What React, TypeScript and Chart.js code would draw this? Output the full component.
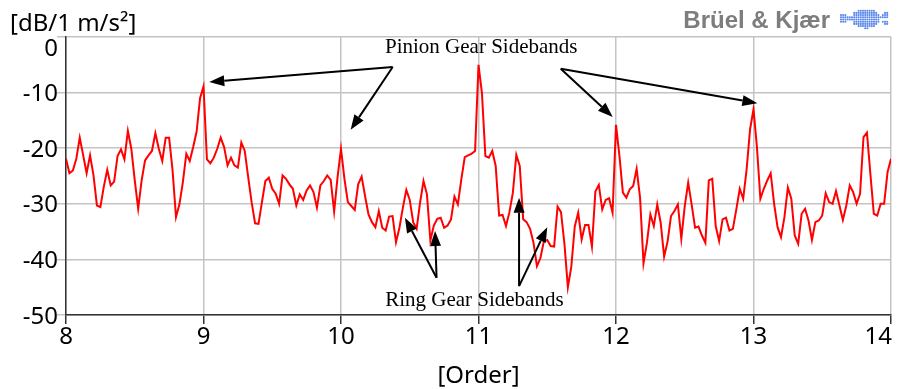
import React, { useEffect, useRef } from "react";
import { Chart, registerables } from "chart.js";

Chart.register(...registerables);

// Spectrum sampling: one value every 1/40 order, starting at order 8
const ORDER_START = 8;
const ORDER_STEP = 0.025;

const X_TICKS = [8, 9, 10, 11, 12, 13, 14];
const Y_TICKS = [0, -10, -20, -30, -40, -50];

const Y_TITLE = "[dB/1 m/s²]";
const X_TITLE = "[Order]";
const PINION_LABEL = "Pinion Gear Sidebands";
const RING_LABEL = "Ring Gear Sidebands";
const BRAND = "Brüel & Kjær";

// order 8.000 .. 9.000
const LEVELS_8_9 = [
  -21.9, -24.5, -24.0, -21.9, -18.1, -21.3, -24.5, -21.3, -24.9, -30.3,
  -30.6, -26.9, -23.9, -26.7, -26.0, -21.4, -20.2, -22.0, -16.9, -20.1,
  -25.8, -30.9, -25.8, -22.2, -21.3, -20.5, -17.3, -20.1, -22.3, -18.1,
  -18.1, -24.0, -32.4, -30.1, -26.1, -21.0, -22.3, -19.8, -17.0, -11.0,
  -8.9,
];
// order 9.025 .. 10.000
const LEVELS_9_10 = [
  -22.0, -22.7, -21.7, -20.1, -18.1, -19.8, -23.1, -21.7, -23.1, -23.5,
  -19.0, -20.5, -25.2, -29.7, -33.5, -33.6, -29.7, -25.9, -25.3, -27.3,
  -28.2, -30.0, -24.9, -25.5, -26.5, -27.3, -30.3, -28.3, -29.3, -27.6,
  -26.7, -27.9, -30.7, -26.7, -25.9, -24.9, -25.7, -31.4, -25.2, -20.1,
];
// order 10.025 .. 11.000
const LEVELS_10_11 = [
  -25.5, -29.7, -30.4, -31.1, -26.5, -25.1, -28.6, -31.9, -33.3, -34.2,
  -31.3, -34.3, -34.8, -32.3, -32.2, -36.9, -34.3, -30.7, -27.5, -29.3,
  -33.3, -34.5, -29.8, -25.9, -28.3, -36.6, -33.9, -32.7, -32.5, -34.3,
  -33.9, -32.8, -28.7, -30.1, -25.6, -21.6, -21.3, -21.0, -20.5, -5.0,
];
// order 11.025 .. 12.000
const LEVELS_11_12 = [
  -10.1, -21.4, -21.7, -20.5, -23.2, -32.1, -32.0, -34.0, -31.5, -28.0,
  -21.2, -23.2, -32.8, -33.3, -34.5, -37.0, -41.2, -39.8, -36.8, -36.5,
  -37.6, -37.7, -30.5, -31.5, -37.2, -45.0, -41.3, -34.1, -31.6, -36.4,
  -33.8, -33.8, -37.7, -27.8, -26.6, -31.0, -29.3, -29.0, -31.6, -15.8,
];
// order 12.025 .. 13.000
const LEVELS_12_13 = [
  -21.4, -28.0, -28.9, -27.4, -26.8, -23.7, -28.9, -40.7, -37.0, -31.9,
  -34.0, -30.1, -33.4, -39.5, -36.8, -32.2, -31.3, -30.1, -36.3, -30.4,
  -26.2, -30.1, -34.3, -34.1, -35.7, -37.0, -25.8, -25.5, -34.0, -36.7,
  -32.8, -32.5, -34.8, -34.5, -31.0, -27.3, -29.1, -23.8, -16.6, -13.0,
];
// order 13.025 .. 14.000
const LEVELS_13_14 = [
  -19.8, -29.1, -27.3, -25.8, -24.5, -30.0, -34.2, -36.0, -32.4, -27.1,
  -29.1, -35.7, -37.2, -31.8, -30.9, -33.0, -36.5, -33.3, -33.0, -32.1,
  -28.1, -29.7, -30.0, -27.7, -30.3, -32.9, -30.3, -26.7, -27.9, -30.0,
  -28.2, -18.0, -17.2, -24.6, -31.8, -32.1, -30.0, -30.0, -24.3, -21.9,
];

// Annotation anchors in data units [order, dB]
const PINION_TEXT_AT = [11.02, -2.8];
const PINION_LEFT_BASE = [10.376, -5.4];
const PINION_LEFT_TIPS = [
  [9.042, -8.1],
  [10.07, -16.7],
];
const PINION_RIGHT_BASE = [11.598, -5.7];
const PINION_RIGHT_TIPS = [
  [11.976, -14.4],
  [13.028, -11.9],
];
const RING_TEXT_AT = [10.97, -48.3];
const RING_LEFT_BASE = [10.695, -43.3];
const RING_LEFT_TIPS = [
  [10.465, -32.5],
  [10.684, -34.9],
];
const RING_RIGHT_BASE = [11.295, -44.8];
const RING_RIGHT_TIPS = [
  [11.295, -28.9],
  [11.5, -34.2],
];

const SANS = '"Noto Sans", "Open Sans", sans-serif';
const SERIF = '"Liberation Serif", "DejaVu Serif", serif';

function drawArrow(ctx: CanvasRenderingContext2D, x0: number, y0: number, x1: number, y1: number) {
  const ang = Math.atan2(y1 - y0, x1 - x0);
  const len = 15;
  const hw = 5.5;
  const bx = x1 - Math.cos(ang) * len;
  const by = y1 - Math.sin(ang) * len;
  ctx.beginPath();
  ctx.moveTo(x0, y0);
  ctx.lineTo(bx, by);
  ctx.stroke();
  ctx.beginPath();
  ctx.moveTo(x1, y1);
  ctx.lineTo(bx + Math.sin(ang) * hw, by - Math.cos(ang) * hw);
  ctx.lineTo(bx - Math.sin(ang) * hw, by + Math.cos(ang) * hw);
  ctx.closePath();
  ctx.fill();
}

const overlayPlugin = {
  id: "overlay",
  afterDraw(chart: any) {
    const ctx: CanvasRenderingContext2D = chart.ctx;
    const xs = chart.scales.x;
    const ys = chart.scales.y;
    const px = (p: number[]) => [xs.getPixelForValue(p[0]), ys.getPixelForValue(p[1])];
    ctx.save();

    // y tick labels
    ctx.fillStyle = "#000";
    ctx.font = `24px ${SANS}`;
    ctx.textAlign = "right";
    ctx.textBaseline = "alphabetic";
    for (const v of Y_TICKS) {
      const y = ys.getPixelForValue(v);
      ctx.fillText(String(v), 58, v === 0 ? y + 19 : y + 8.5);
    }
    // x tick labels
    X_TICKS.forEach((v, i) => {
      const x = xs.getPixelForValue(v);
      ctx.textAlign = i === X_TICKS.length - 1 ? "right" : "center";
      ctx.fillText(String(v), i === X_TICKS.length - 1 ? x + 1 : x, chart.chartArea.bottom + 29);
    });
    // axis titles
    ctx.textAlign = "left";
    ctx.fillText(Y_TITLE, 10, 31);
    ctx.textAlign = "center";
    ctx.fillText(X_TITLE, (chart.chartArea.left + chart.chartArea.right) / 2, 383);

    // brand
    ctx.font = `bold 24px "Liberation Sans", Arial, sans-serif`;
    ctx.fillStyle = "#7d7d7d";
    ctx.textAlign = "right";
    ctx.fillText(BRAND, 830, 28);
    ctx.fillStyle = "rgba(80,130,235,0.95)";
    for (let yy = 8.5; yy <= 29; yy += 2.2) {
      for (let xx = 841; xx <= 888; xx += 2.2) {
        const dy = Math.abs(yy - 18.5);
        const inBody = ((xx - 866) / 14.5) ** 2 + ((yy - 18.5) / 10) ** 2 <= 1;
        const inTail = xx >= 841 && xx < 853 && dy < (853 - xx) * 0.3 + 1.5;
        const inFin = xx > 878 && xx <= 888 && dy < (xx - 878) * 0.8 && dy > 1.2;
        if (inBody || inTail || inFin) {
          ctx.beginPath();
          ctx.arc(xx, yy, 1.05, 0, Math.PI * 2);
          ctx.fill();
        }
      }
    }

    // annotations
    ctx.fillStyle = "#000";
    ctx.strokeStyle = "#000";
    ctx.lineWidth = 2;
    ctx.font = `21px ${SERIF}`;
    ctx.textAlign = "center";
    const pt = px(PINION_TEXT_AT);
    ctx.fillText(PINION_LABEL, pt[0], pt[1]);
    const rt = px(RING_TEXT_AT);
    ctx.fillText(RING_LABEL, rt[0], rt[1]);

    const groups: [number[], number[][]][] = [
      [PINION_LEFT_BASE, PINION_LEFT_TIPS],
      [PINION_RIGHT_BASE, PINION_RIGHT_TIPS],
      [RING_LEFT_BASE, RING_LEFT_TIPS],
      [RING_RIGHT_BASE, RING_RIGHT_TIPS],
    ];
    for (const [base, tips] of groups) {
      const b = px(base);
      for (const t of tips) {
        const p = px(t);
        drawArrow(ctx, b[0], b[1], p[0], p[1]);
      }
    }
    ctx.restore();
  },
};

export default function App() {
  const canvasRef = useRef<HTMLCanvasElement | null>(null);

  useEffect(() => {
    document.body.style.margin = "0";
    const levels = [
      ...LEVELS_8_9,
      ...LEVELS_9_10,
      ...LEVELS_10_11,
      ...LEVELS_11_12,
      ...LEVELS_12_13,
      ...LEVELS_13_14,
    ];
    const points = levels.map((v, i) => ({ x: ORDER_START + i * ORDER_STEP, y: v }));
    const canvas = canvasRef.current!;
    const chart = new Chart(canvas, {
      type: "line",
      data: {
        datasets: [
          {
            data: points,
            borderColor: "#ff0000",
            borderWidth: 2,
            pointRadius: 0,
            tension: 0,
            fill: false,
          },
        ],
      },
      options: {
        animation: false,
        responsive: false,
        events: [],
        layout: { padding: { top: 37, right: 15, left: 0, bottom: 0 } },
        plugins: { legend: { display: false }, tooltip: { enabled: false }, title: { display: false } },
        scales: {
          x: {
            type: "linear",
            min: 8,
            max: 14,
            afterFit: (s: any) => {
              s.height = 74;
            },
            afterBuildTicks: (s: any) => {
              s.ticks = X_TICKS.map((v) => ({ value: v }));
            },
            ticks: { display: false },
            grid: { color: "#c4c4c4", lineWidth: 1.5, tickLength: 9, tickColor: "#333", tickWidth: 1.5, drawTicks: true },
            border: { display: true, color: "#333", width: 1.5 },
          },
          y: {
            type: "linear",
            min: -50,
            max: 0,
            afterFit: (s: any) => {
              s.width = 66;
            },
            afterBuildTicks: (s: any) => {
              s.ticks = Y_TICKS.map((v) => ({ value: v }));
            },
            ticks: { display: false },
            grid: { color: "#c4c4c4", lineWidth: 1.5, tickLength: 9, tickColor: "#c4c4c4", drawTicks: true },
            border: { display: true, color: "#333", width: 1.5 },
          },
        },
      },
      plugins: [overlayPlugin],
    } as any);
    return () => chart.destroy();
  }, []);

  return (
    <div style={{ width: 906, height: 389, position: "relative", background: "#fff" }}>
      <canvas ref={canvasRef} width={906} height={389} style={{ display: "block" }} />
    </div>
  );
}
